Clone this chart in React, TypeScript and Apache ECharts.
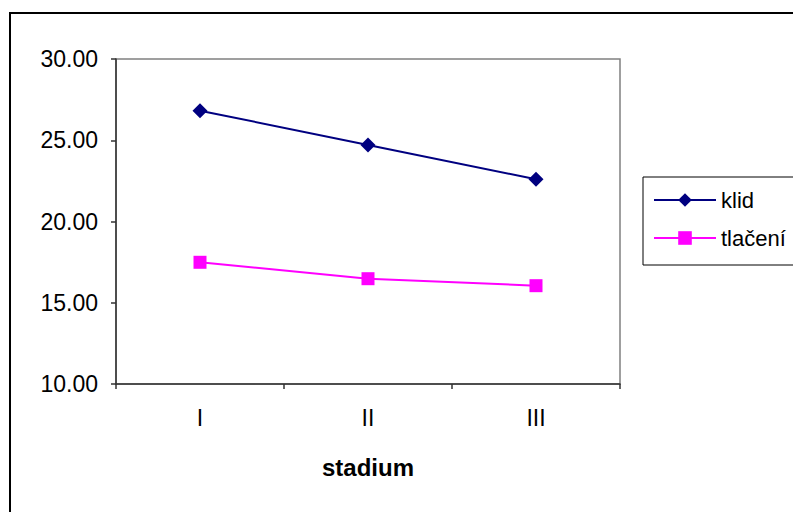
import React, { useEffect, useRef } from "react";
import * as echarts from "echarts";

const categories = ["I", "II", "III"];
const klidValues = [26.82, 24.71, 22.6];
const tlaceniValues = [17.49, 16.48, 16.05];
const seriesNames = ["klid", "tlačení"];
const axisTitle = "stadium";

export default function App() {
  const ref = useRef<HTMLDivElement>(null);
  useEffect(() => {
    if (!ref.current) return;
    const chart = echarts.init(ref.current, undefined, { renderer: "svg" });
    const font = "'Liberation Sans', Arial, sans-serif";
    chart.setOption({
      animation: false,
      backgroundColor: "#ffffff",
      graphic: [
        {
          type: "rect",
          shape: { x: 10, y: 13, width: 820, height: 540 },
          style: { fill: "none", stroke: "#000", lineWidth: 2 },
          silent: true,
        },
      ],
      grid: {
        left: 116,
        top: 59,
        right: 173,
        bottom: 128,
        show: true,
        borderColor: "#808080",
        borderWidth: 1.5,
        backgroundColor: "#ffffff",
      },
      legend: {
        left: 643,
        top: 177,
        orient: "vertical",
        data: seriesNames,
        itemWidth: 62,
        itemHeight: 17,
        itemGap: 16,
        padding: [12, 20, 16, 10],
        borderColor: "#000",
        borderWidth: 1,
        backgroundColor: "#fff",
        textStyle: { fontFamily: font, fontSize: 22, color: "#000" },
      },
      xAxis: {
        type: "category",
        data: categories,
        boundaryGap: true,
        name: axisTitle,
        nameLocation: "middle",
        nameGap: 71,
        nameTextStyle: { fontFamily: font, fontSize: 24, fontWeight: "bold", color: "#000" },
        axisLine: { show: true, lineStyle: { color: "#333", width: 1.5 } },
        axisTick: { show: true, length: 5, lineStyle: { color: "#333", width: 1.5 } },
        axisLabel: { fontFamily: font, fontSize: 23, color: "#000", margin: 22 },
        splitLine: { show: false },
      },
      yAxis: {
        type: "value",
        min: 10,
        max: 30,
        interval: 5,
        axisLine: { show: true, lineStyle: { color: "#333", width: 1.5 } },
        axisTick: { show: true, length: 5, lineStyle: { color: "#333", width: 1.5 } },
        axisLabel: {
          fontFamily: font,
          fontSize: 23,
          color: "#000",
          margin: 18,
          formatter: (v: number) => v.toFixed(2),
        },
        splitLine: { show: false },
      },
      series: [
        {
          name: seriesNames[0],
          type: "line",
          data: klidValues,
          symbol: "diamond",
          symbolSize: 15,
          color: "#000080",
          lineStyle: { color: "#000080", width: 2 },
          itemStyle: { color: "#000080" },
        },
        {
          name: seriesNames[1],
          type: "line",
          data: tlaceniValues,
          symbol: "rect",
          symbolSize: 13,
          color: "#ff00ff",
          lineStyle: { color: "#ff00ff", width: 2 },
          itemStyle: { color: "#ff00ff" },
        },
      ],
    });
    return () => chart.dispose();
  }, []);
  return (
    <div
      ref={ref}
      style={{ position: "absolute", left: 0, top: 0, width: 793, height: 512 }}
    />
  );
}
